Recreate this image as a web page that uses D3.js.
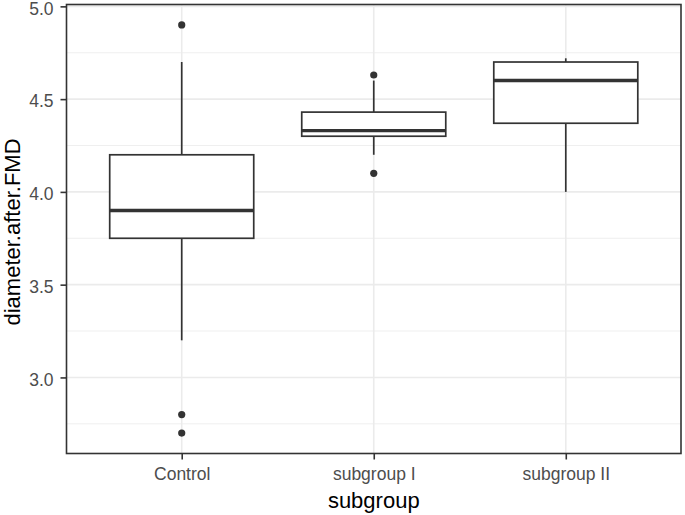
<!DOCTYPE html>
<html><head><meta charset="utf-8">
<script src="https://cdn.jsdelivr.net/npm/d3@7"></script>
<style>body{margin:0;background:#fff}svg{display:block}</style>
</head><body>
<svg id="c" width="685" height="515"></svg>
<script>
const categories = ["Control", "subgroup I", "subgroup II"];
const lowerWhisker = [3.2, 4.2, 4.0];
const q1 = [3.75, 4.30, 4.37];
const median = [3.9, 4.33, 4.60];
const q3 = [4.2, 4.43, 4.70];
const upperWhisker = [4.7, 4.6, 4.72];
const outliers = [[4.9, 2.8, 2.7], [4.63, 4.1], []];
const yTicks = [3.0, 3.5, 4.0, 4.5, 5.0];
const yMinor = [2.75, 3.25, 3.75, 4.25, 4.75];
const yDomain = [2.59, 5.01];

const svg = d3.select("#c");
const L = 66.5, R = 681, T = 4.5, B = 453.5;
const x = d3.scalePoint().domain(categories).range([L, R]).padding(0.6);
const y = d3.scaleLinear().domain(yDomain).range([B, T]);
const bw = x.step() * 0.75;
const dark = "#333333";
const font = "Liberation Sans, Arial, sans-serif";

const g = svg.append("g");
g.selectAll(".mn").data(yMinor).join("line")
  .attr("x1", L).attr("x2", R).attr("y1", d => y(d)).attr("y2", d => y(d))
  .attr("stroke", "#EBEBEB").attr("stroke-width", 0.8);
g.selectAll(".mj").data(yTicks).join("line")
  .attr("x1", L).attr("x2", R).attr("y1", d => y(d)).attr("y2", d => y(d))
  .attr("stroke", "#EBEBEB").attr("stroke-width", 1.6);
g.selectAll(".mx").data(categories).join("line")
  .attr("x1", d => x(d)).attr("x2", d => x(d)).attr("y1", T).attr("y2", B)
  .attr("stroke", "#EBEBEB").attr("stroke-width", 1.6);

const data = categories.map((c, i) => ({c, lo: lowerWhisker[i], q1: q1[i], med: median[i], q3: q3[i], hi: upperWhisker[i], out: outliers[i]}));
const bx = g.selectAll(".box").data(data).join("g");
bx.append("line").attr("x1", d => x(d.c)).attr("x2", d => x(d.c))
  .attr("y1", d => y(d.q3)).attr("y2", d => y(d.hi)).attr("stroke", dark).attr("stroke-width", 1.7);
bx.append("line").attr("x1", d => x(d.c)).attr("x2", d => x(d.c))
  .attr("y1", d => y(d.q1)).attr("y2", d => y(d.lo)).attr("stroke", dark).attr("stroke-width", 1.7);
bx.append("rect").attr("x", d => x(d.c) - bw / 2).attr("width", bw)
  .attr("y", d => y(d.q3)).attr("height", d => y(d.q1) - y(d.q3))
  .attr("fill", "#fff").attr("stroke", dark).attr("stroke-width", 1.7);
bx.append("line").attr("x1", d => x(d.c) - bw / 2).attr("x2", d => x(d.c) + bw / 2)
  .attr("y1", d => y(d.med)).attr("y2", d => y(d.med)).attr("stroke", dark).attr("stroke-width", 3.4);
bx.selectAll("circle").data(d => d.out.map(v => ({c: d.c, v}))).join("circle")
  .attr("cx", d => x(d.c)).attr("cy", d => y(d.v)).attr("r", 3.6).attr("fill", dark);

svg.append("rect").attr("x", L).attr("y", T).attr("width", R - L).attr("height", B - T)
  .attr("fill", "none").attr("stroke", dark).attr("stroke-width", 1.6);

const ya = svg.append("g").attr("transform", `translate(${L},0)`)
  .call(d3.axisLeft(y).tickValues(yTicks).tickFormat(d3.format(".1f")).tickSize(6).tickPadding(7));
ya.select(".domain").remove();
ya.selectAll(".tick line").attr("stroke", dark).attr("stroke-width", 1.6);
ya.selectAll(".tick text").attr("fill", "#4D4D4D").attr("dy", "0.45em").style("font-family", font).style("font-size", "17.5px");

const xa = svg.append("g").attr("transform", `translate(0,${B})`)
  .call(d3.axisBottom(x).tickSize(6).tickPadding(8));
xa.select(".domain").remove();
xa.selectAll(".tick line").attr("stroke", dark).attr("stroke-width", 1.6);
xa.selectAll(".tick text").attr("fill", "#4D4D4D").style("font-family", font).style("font-size", "17.5px");

svg.append("text").attr("x", (L + R) / 2).attr("y", 507.5).attr("text-anchor", "middle")
  .style("font-family", font).style("font-size", "22px").attr("fill", "#000").text("subgroup");
svg.append("text").attr("transform", `translate(20,${(T + B) / 2 + 3}) rotate(-90)`).attr("text-anchor", "middle")
  .style("font-family", font).style("font-size", "22px").attr("fill", "#000").text("diameter.after.FMD");
</script>
</body></html>
